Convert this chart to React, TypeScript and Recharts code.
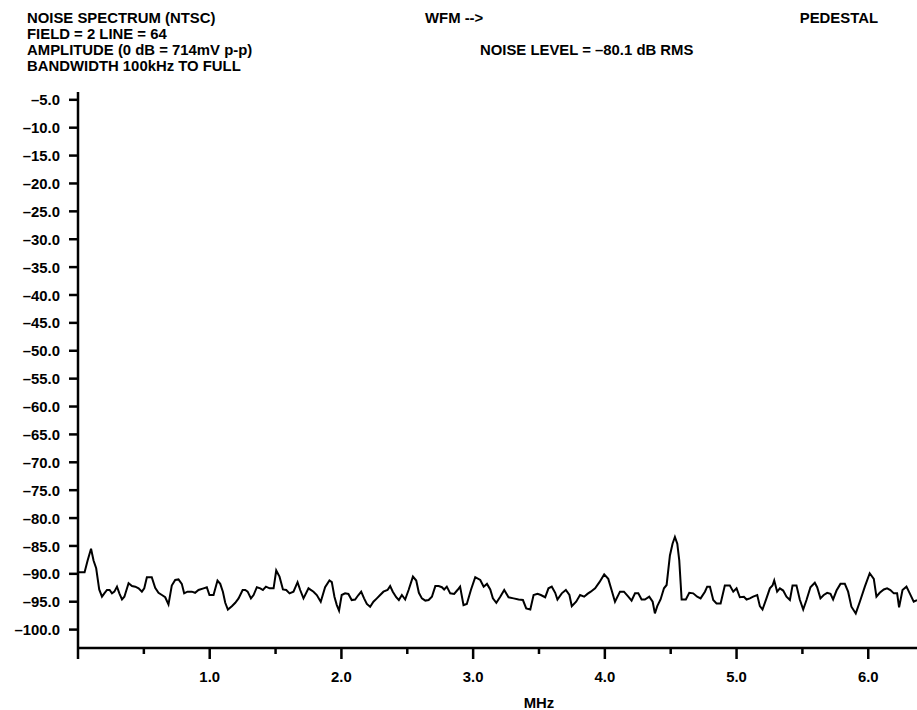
import React from "react";
import { LineChart, Line, XAxis, YAxis } from "recharts";

const freqMHz = [
  0, 0.05, 0.073, 0.099, 0.118, 0.138, 0.161, 0.182, 0.2, 0.22, 0.24, 0.258, 0.276, 0.296, 0.314, 0.334, 0.352,
  0.384, 0.41, 0.435, 0.46, 0.485, 0.503, 0.523, 0.56, 0.586, 0.611, 0.637, 0.662, 0.687, 0.712, 0.738, 0.763,
  0.788, 0.806, 0.831, 0.864, 0.889, 0.915, 0.953, 0.978, 0.998, 1.029, 1.059, 1.08, 1.1, 1.118, 1.138, 1.168,
  1.194, 1.219, 1.25, 1.27, 1.288, 1.313, 1.333, 1.358, 1.384, 1.404, 1.427, 1.455, 1.485, 1.505, 1.53, 1.556,
  1.581, 1.606, 1.636, 1.667, 1.687, 1.712, 1.75, 1.788, 1.813, 1.843, 1.876, 1.909, 1.927, 1.947, 1.965, 1.982,
  2.002, 2.028, 2.053, 2.078, 2.104, 2.129, 2.15, 2.172, 2.193, 2.218, 2.243, 2.269, 2.294, 2.319, 2.35, 2.37,
  2.39, 2.416, 2.436, 2.459, 2.484, 2.51, 2.543, 2.568, 2.588, 2.611, 2.637, 2.662, 2.687, 2.713, 2.738, 2.763,
  2.78, 2.8, 2.826, 2.856, 2.881, 2.901, 2.927, 2.952, 2.983, 3.016, 3.054, 3.08, 3.105, 3.13, 3.15, 3.176,
  3.206, 3.236, 3.269, 3.307, 3.345, 3.378, 3.403, 3.434, 3.459, 3.489, 3.514, 3.547, 3.572, 3.597, 3.623, 3.64,
  3.673, 3.704, 3.731, 3.749, 3.782, 3.812, 3.843, 3.868, 3.893, 3.926, 3.959, 3.995, 4.026, 4.051, 4.077, 4.115,
  4.145, 4.178, 4.203, 4.229, 4.254, 4.279, 4.304, 4.337, 4.363, 4.38, 4.398, 4.423, 4.449, 4.469, 4.494, 4.514,
  4.532, 4.55, 4.565, 4.583, 4.615, 4.641, 4.671, 4.701, 4.727, 4.76, 4.777, 4.798, 4.823, 4.848, 4.879, 4.911,
  4.949, 4.975, 5.0, 5.025, 5.056, 5.076, 5.101, 5.126, 5.157, 5.177, 5.197, 5.227, 5.253, 5.273, 5.286, 5.308,
  5.329, 5.354, 5.379, 5.405, 5.425, 5.455, 5.48, 5.506, 5.531, 5.561, 5.594, 5.612, 5.637, 5.662, 5.688, 5.713,
  5.733, 5.759, 5.789, 5.822, 5.847, 5.872, 5.905, 5.936, 5.974, 6.011, 6.042, 6.062, 6.087, 6.118, 6.143, 6.168,
  6.194, 6.219, 6.234, 6.26, 6.29, 6.315, 6.345, 6.37,
];

const noiseDb = [
  -89.7, -89.7, -87.6, -85.5, -87.6, -89.0, -92.8, -94.1, -93.5, -92.9, -92.9, -93.5, -93.2, -92.3, -93.5, -94.6, -94.1,
  -91.7, -92.2, -92.3, -92.6, -93.2, -92.6, -90.6, -90.6, -92.5, -93.4, -93.8, -94.2, -95.5, -92.1, -91.1, -91.0,
  -91.8, -93.5, -93.2, -93.2, -93.4, -92.9, -92.6, -92.4, -93.8, -93.8, -91.2, -91.8, -93.2, -95.2, -96.4, -95.8,
  -95.2, -94.4, -92.9, -92.9, -93.2, -94.4, -93.8, -92.4, -92.6, -92.9, -92.3, -92.6, -92.6, -89.4, -90.5, -92.8,
  -92.9, -93.5, -93.2, -91.5, -92.9, -94.4, -92.6, -93.2, -93.8, -95.0, -92.4, -91.2, -91.5, -94.1, -95.6, -96.6,
  -93.8, -93.5, -93.6, -94.7, -94.6, -93.8, -93.2, -94.4, -95.4, -95.9, -95.0, -94.4, -93.8, -93.2, -92.9, -92.2,
  -93.2, -94.2, -94.7, -93.8, -94.6, -92.9, -90.5, -91.2, -93.4, -94.4, -94.8, -94.7, -94.1, -92.2, -92.2, -92.4,
  -92.8, -92.3, -93.5, -93.6, -92.9, -92.3, -95.6, -95.4, -92.9, -90.6, -91.1, -92.3, -91.8, -92.8, -94.4, -95.2,
  -94.1, -92.9, -94.2, -94.4, -94.6, -94.7, -96.2, -96.4, -93.8, -93.6, -93.8, -94.2, -92.6, -92.3, -93.4, -94.6,
  -93.5, -92.9, -93.8, -95.8, -95.0, -93.8, -94.1, -93.6, -93.2, -92.6, -91.5, -90.1, -90.9, -92.9, -95.0, -93.2,
  -93.2, -94.1, -94.8, -93.5, -93.5, -94.6, -94.6, -94.1, -95.0, -97.1, -95.8, -94.6, -92.6, -92.0, -86.7, -84.6,
  -83.4, -84.6, -87.6, -94.6, -94.6, -93.4, -93.5, -94.1, -94.4, -93.2, -92.3, -92.3, -94.7, -95.3, -95.3, -92.1,
  -92.1, -93.2, -92.6, -94.2, -94.1, -94.6, -94.4, -94.1, -93.8, -95.8, -96.4, -94.4, -92.6, -92.1, -91.2, -93.2,
  -92.6, -93.0, -94.1, -94.7, -92.1, -92.1, -94.6, -96.4, -94.7, -92.4, -91.6, -92.4, -94.4, -93.8, -93.4, -93.6,
  -94.6, -93.0, -91.8, -91.8, -93.2, -95.9, -97.1, -95.0, -92.3, -89.9, -90.9, -94.1, -93.4, -92.8, -92.6, -92.9,
  -93.5, -93.5, -96.0, -92.9, -92.3, -93.5, -95.0, -94.7,
];

const yTicks = [-100, -95, -90, -85, -80, -75, -70, -65, -60, -55, -50, -45, -40, -35, -30, -25, -20, -15, -10, -5];
const xTicks = [0, 0.5, 1, 1.5, 2, 2.5, 3, 3.5, 4, 4.5, 5, 5.5, 6];
const xLabeled = [1, 2, 3, 4, 5, 6];

const headerLeft = [
  "NOISE SPECTRUM (NTSC)",
  "FIELD = 2 LINE = 64",
  "AMPLITUDE (0 dB = 714mV p-p)",
  "BANDWIDTH 100kHz TO FULL",
];
const headerWfm = "WFM -->";
const headerPedestal = "PEDESTAL";
const headerNoise = "NOISE LEVEL = \u201380.1 dB RMS";
const xAxisTitle = "MHz";

const FONT = "'Liberation Sans', Arial, sans-serif";
const FS = 15.5;
const SX = 0.96;

const data = freqMHz.map((f, i) => ({ f, db: noiseDb[i] }));

const fmtNeg = (v: number) => (v < 0 ? "\u2013" + Math.abs(v).toFixed(1) : v.toFixed(1));

const T = (props: { x: number; y: number; anchor?: "start" | "middle" | "end"; dy?: string; children: React.ReactNode }) => (
  <text
    transform={`translate(${props.x},${props.y}) scale(${SX},1)`}
    x={0}
    y={0}
    dy={props.dy}
    textAnchor={props.anchor || "start"}
    fontFamily={FONT}
    fontWeight="bold"
    fontSize={FS}
    fill="#000"
  >
    {props.children}
  </text>
);

const YTick = (props: any) => {
  const { x, y, payload } = props;
  return (
    <g>
      <line x1={x - 9} x2={x} y1={y} y2={y} stroke="#000" strokeWidth={2.5} />
      <T x={x - 18} y={y} dy="0.36em" anchor="end">
        {fmtNeg(payload.value)}
      </T>
    </g>
  );
};

const XTick = (props: any) => {
  const { x, y, payload } = props;
  const v = payload.value as number;
  const major = Math.abs(v - Math.round(v)) < 1e-6;
  return (
    <g>
      <line x1={x} x2={x} y1={y} y2={y + (major ? 11 : 6)} stroke="#000" strokeWidth={2.5} />
      {xLabeled.includes(v) && (
        <T x={x} y={y + 34} anchor="middle">
          {v.toFixed(1)}
        </T>
      )}
    </g>
  );
};

export default function App() {
  return (
    <div style={{ position: "absolute", left: 0, top: 0, width: 917, height: 710, background: "#fff", overflow: "hidden" }}>
      <LineChart width={917} height={710} data={data} margin={{ top: 92, right: 0, left: 0, bottom: 0 }}>
        <XAxis
          dataKey="f"
          type="number"
          domain={[0, 6.37]}
          allowDataOverflow
          ticks={xTicks}
          interval={0}
          height={62}
          tickSize={0}
          tickMargin={0}
          tickLine={false}
          axisLine={{ stroke: "#000", strokeWidth: 2.5 }}
          tick={<XTick />}
        />
        <YAxis
          type="number"
          domain={[-103.3, -3.6]}
          allowDataOverflow
          ticks={yTicks}
          interval={0}
          width={78}
          tickSize={0}
          tickMargin={0}
          tickLine={false}
          axisLine={{ stroke: "#000", strokeWidth: 2.5 }}
          tick={<YTick />}
        />
        <Line
          type="linear"
          dataKey="db"
          stroke="#000"
          strokeWidth={2}
          dot={false}
          activeDot={false}
          isAnimationActive={false}
        />
      </LineChart>
      <svg width={917} height={710} style={{ position: "absolute", left: 0, top: 0, pointerEvents: "none" }}>
        {headerLeft.map((t, i) => (
          <T key={t} x={27} y={22.5 + i * 16.2}>
            {t}
          </T>
        ))}
        <T x={425} y={22.5}>{headerWfm}</T>
        <T x={878} y={22.5} anchor="end">{headerPedestal}</T>
        <T x={480} y={55}>{headerNoise}</T>
        <T x={539} y={708} anchor="middle">{xAxisTitle}</T>
      </svg>
    </div>
  );
}
